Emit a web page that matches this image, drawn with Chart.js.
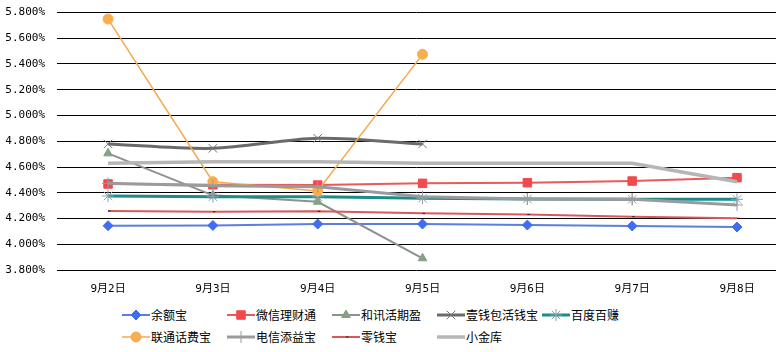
<!DOCTYPE html>
<html>
<head>
<meta charset="utf-8">
<script src="https://cdn.jsdelivr.net/npm/chart.js@4/dist/chart.umd.min.js"></script>
<style>
html, body { margin: 0; padding: 0; background: #fff; overflow: hidden; }
#wrap { position: relative; width: 776px; height: 352px; }
#c { position: absolute; left: 0; top: 0; }
.lg { position: absolute; display: flex; align-items: center; font: 12px "Noto Sans CJK SC", sans-serif; color: #000; white-space: nowrap; }
.lg canvas { margin-right: 1px; }
</style>
</head>
<body>
<div id="wrap">
  <canvas id="c" width="776" height="300"></canvas>
  <div id="legend"></div>
</div>
<script>
// 7-day annualised yields of money funds, 9月2日 - 9月8日
const days = ['9月2日', '9月3日', '9月4日', '9月5日', '9月6日', '9月7日', '9月8日'];
const names = ['余额宝', '微信理财通', '和讯活期盈', '壹钱包活钱宝', '百度百赚', '联通话费宝', '电信添益宝', '零钱宝', '小金库'];

const yuebao   = [4.144, 4.146, 4.157, 4.157, 4.149, 4.142, 4.134];
const weixin   = [4.468, 4.462, 4.460, 4.473, 4.478, 4.491, 4.517];
const hexun    = [4.706, 4.380, 4.330, 3.891];
const yiqianbao = [4.779, 4.745, 4.823, 4.779];
const baidu    = [4.375, 4.369, 4.369, 4.357, 4.351, 4.349, 4.349];
const liantong = [5.749, 4.486, 4.414, 5.475];
const dianxin  = [4.473, 4.455, 4.447, 4.369, 4.351, 4.349, 4.305];
const lingqian = [4.258, 4.253, 4.256, 4.240, 4.231, 4.214, 4.202];
const xiaojin  = [4.629, 4.641, 4.641, 4.629, 4.629, 4.629, 4.486];

const yMin = 3.8, yMax = 5.8, yStep = 0.2;

const series = [yuebao, weixin, hexun, yiqianbao, baidu, liantong, dianxin, lingqian, xiaojin];

// line colour, width, marker, marker fill, marker edge, radius, tension
const looks = [
    { c: '#5b7fdc', w: 2,   p: 'rectRot',  f: '#3f6ff0', e: '#3f6ff0', r: 5,   t: 0 },
    { c: '#e85a5c', w: 2,   p: 'rect',     f: '#f24a4c', e: '#f24a4c', r: 6,   t: 0 },
    { c: '#8a938c', w: 2,   p: 'triangle', f: '#86a084', e: '#86a084', r: 5,   t: 0 },
    { c: '#6a6a6a', w: 3,   p: 'crossRot', f: '#777',    e: '#777',    r: 6,   t: 0.3 },
    { c: '#1b8c8a', w: 3,   p: 'star',     f: '#8aa0b0', e: '#8aa0b0', r: 6,   t: 0 },
    { c: '#f6a84c', w: 1.5, p: 'circle',   f: '#f8ae4e', e: '#f8ae4e', r: 5,   t: 0 },
    { c: '#9a9b9e', w: 3,   p: 'cross',    f: '#9a9b9e', e: '#9a9b9e', r: 6,   t: 0 },
    { c: '#d9585a', w: 2,   p: 'dash',     f: '#222',    e: '#222',    r: 2.5, t: 0 },
    { c: '#b6b6b6', w: 3.5, p: false,      f: '#b6b6b6', e: '#b6b6b6', r: 0,   t: 0 }
];

const tickFont = { family: '"DejaVu Sans Mono", "Noto Sans CJK SC", monospace', size: 11 };

const datasets = series.map((vals, i) => {
    const s = looks[i];
    return {
        label: names[i],
        data: vals.map((v, k) => ({ x: k, y: v })),
        borderColor: s.c,
        borderWidth: s.w,
        tension: s.t,
        pointStyle: s.p,
        pointRadius: s.r,
        pointHoverRadius: s.r,
        pointBackgroundColor: s.f,
        pointBorderColor: s.e,
        pointBorderWidth: 1,
        fill: false,
        clip: false,
        order: series.length - i
    };
});

new Chart(document.getElementById('c'), {
    type: 'line',
    data: { datasets },
    options: {
        responsive: false,
        animation: false,
        layout: { autoPadding: false, padding: { left: 0, right: 0, top: 12.5, bottom: 0 } },
        plugins: { legend: { display: false }, tooltip: { enabled: false } },
        scales: {
            x: {
                type: 'linear', min: -0.487, max: 6.372,
                grid: { display: false }, border: { display: false },
                afterBuildTicks: s => { s.ticks = days.map((d, i) => ({ value: i })); },
                afterFit: s => { s.height = 30; s.paddingLeft = 0; s.paddingRight = 0; },
                ticks: { autoSkip: false, maxRotation: 0, padding: 5, color: '#000', font: tickFont,
                    callback: v => days[v] ?? '' }
            },
            y: {
                min: yMin, max: yMax,
                grid: { color: '#000', lineWidth: 1, drawTicks: false },
                border: { display: false },
                afterFit: s => { s.width = 57; s.paddingTop = 0; s.paddingBottom = 0; },
                ticks: { stepSize: yStep, padding: 12, color: '#000', font: tickFont,
                    callback: v => v.toFixed(3) + '%' }
            }
        }
    }
});

// Legend laid out in a 5-column grid like the original
function drawSample(cv, ds) {
    const ctx = cv.getContext('2d');
    ctx.strokeStyle = ds.borderColor;
    ctx.lineWidth = ds.borderWidth;
    ctx.beginPath(); ctx.moveTo(0, 7); ctx.lineTo(28, 7); ctx.stroke();
    if (ds.pointStyle && ds.pointRadius > 0 && Chart.helpers && Chart.helpers.drawPoint) {
        ctx.fillStyle = ds.pointBackgroundColor;
        ctx.strokeStyle = ds.pointBorderColor;
        ctx.lineWidth = 1;
        Chart.helpers.drawPoint(ctx, { pointStyle: ds.pointStyle, radius: ds.pointRadius, borderWidth: 1, rotation: 0 }, 14, 7);
    }
}

const legend = document.getElementById('legend');
datasets.forEach((ds, i) => {
    const row = i < 5 ? 0 : 1, col = i < 5 ? i : i - 5;
    const item = document.createElement('div');
    item.className = 'lg';
    item.style.left = (122 + col * 105) + 'px';
    item.style.top = (306 + row * 22) + 'px';
    const cv = document.createElement('canvas');
    cv.width = 28; cv.height = 14;
    item.appendChild(cv);
    const txt = document.createElement('span');
    txt.textContent = ds.label;
    item.appendChild(txt);
    legend.appendChild(item);
    drawSample(cv, ds);
});
</script>
</body>
</html>
